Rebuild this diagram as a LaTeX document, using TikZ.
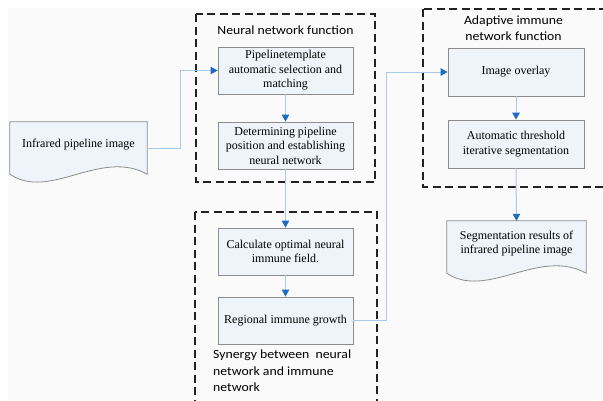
\documentclass[tikz,border=0pt]{standalone}
\usepackage{fontspec}
\usepackage{graphicx}
\setmainfont{Liberation Serif}
\newfontfamily\grpfont{Carlito}
\usetikzlibrary{arrows.meta,calc}
\definecolor{boxfill}{HTML}{EEF4FA}
\definecolor{boxline}{HTML}{8C8C8C}
\definecolor{connline}{HTML}{A9C9EA}
\definecolor{tipblue}{HTML}{1F6BC0}
\definecolor{bggray}{HTML}{FAFAFA}
\definecolor{grpline}{HTML}{222222}
\newcommand{\fitc}[2]{\resizebox{#1}{\height}{\begin{tabular}{@{}c@{}}#2\end{tabular}}}
\newcommand{\fitl}[2]{\resizebox{#1}{\height}{\begin{tabular}{@{}l@{}}#2\end{tabular}}}
\tikzset{
  procbox/.style={draw=boxline, fill=boxfill, line width=0.8pt, minimum width=135pt, minimum height=47pt,
    align=center, font=\fontsize{12}{14.5}\selectfont, inner sep=2pt},
  docnode/.style={minimum width=137pt, minimum height=52pt, align=center, font=\fontsize{12}{14.5}\selectfont, inner sep=2pt},
  docline/.style={draw=boxline, fill=boxfill, line width=0.8pt},
  conn/.style={draw=connline, line width=1pt, -{Triangle[length=7pt,width=7.5pt,color=tipblue]}},
  grpbox/.style={draw=grpline, line width=1.3pt, dash pattern=on 8pt off 4.5pt},
  grptitle/.style={font=\grpfont\fontsize{12.5}{16.5}\selectfont, inner sep=0pt},
}
\begin{document}
\begin{tikzpicture}[x=1pt,y=-1pt]
\useasboundingbox (0,0) rectangle (603,400);
\fill[white] (0,0) rectangle (603,400);
\fill[bggray] (8,8) rectangle (603,400);

% group frames
\draw[grpbox] (196,14) rectangle (375,182);
\draw[grpbox] (423,9) rectangle (612,187);
\draw[grpbox] (195,212) rectangle (377,412);

\node[grptitle] (t1) at (285.5,31) {\fitc{136pt}{Neural network function}};
\node[grptitle] (t2) at (513.5,29) {\fitc{99pt}{Adaptive immune\\network function}};
\node[grptitle, anchor=north west] (t3) at (213,347) {\fitl{138pt}{Synergy between\ \ neural\\network and immune\\network}};

% process boxes
\node[procbox] (A) at (285.5,70.5) {Pipelinetemplate\\automatic selection and\\matching};
\node[procbox] (B) at (285.5,145.5) {Determining pipeline\\position and establishing\\neural network};
\node[procbox] (E) at (285.5,251.5) {Calculate optimal neural\\immune field.};
\node[procbox] (F) at (285.5,320.5) {Regional immune growth};
\node[procbox, minimum width=136pt, minimum height=48pt] (C) at (516,72) {Image overlay};
\node[procbox, minimum width=136pt, minimum height=48pt] (D) at (516,144) {Automatic threshold\\iterative segmentation};

% documents
\node[docnode] (inp) at (78.5,148) {};
\draw[docline] (inp.south east) .. controls +(-47,-26) and +(40,27) .. (inp.south west)
  -- (inp.north west) -- (inp.north east) -- cycle;
\node[font=\fontsize{12}{14.5}\selectfont] at ($(inp.center)+(0,-3)$) {Infrared pipeline image};

\node[docnode, minimum width=139pt] (res) at (516.5,247) {};
\draw[docline] (res.south east) .. controls +(-47,-26) and +(40,27) .. (res.south west)
  -- (res.north west) -- (res.north east) -- cycle;
\node[font=\fontsize{12}{14.5}\selectfont, align=center] at ($(res.center)+(0,-3.5)$) {Segmentation results of\\infrared pipeline image};

% connectors
\draw[conn] (inp.east) -- ++(33,0) |- (A.west);
\draw[conn] (A.south) -- (B.north);
\draw[conn] (B.south) -- (E.north);
\draw[conn] (E.south) -- (F.north);
\draw[conn] (F.east) -- ++(33,0) |- (C.west);
\draw[conn] (C.south) -- (D.north);
\draw[conn] (D.south) -- (res.north);
\end{tikzpicture}
\end{document}
